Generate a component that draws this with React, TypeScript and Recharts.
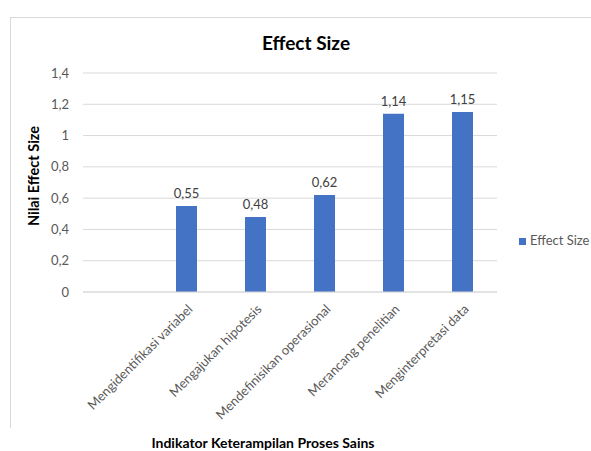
import { BarChart, Bar, XAxis, YAxis, CartesianGrid, Legend, LabelList } from 'recharts';

// first row is empty in the source sheet, so the first slot stays blank
const categories = [
  '',
  'Mengidentifikasi variabel',
  'Mengajukan hipotesis',
  'Mendefinisikan operasional',
  'Merancang penelitian',
  'Menginterpretasi data',
];
const effectSize: Array<number | null> = [null, 0.55, 0.48, 0.62, 1.14, 1.15];
const yTicks = [0, 0.2, 0.4, 0.6, 0.8, 1, 1.2, 1.4];

const FONT = 'Lato, "Open Sans", sans-serif';
const comma = (v: number) => String(v).replace('.', ',');

const data = categories.map((name, i) => ({ name, effectSize: effectSize[i] }));

function AngledTick(props: any) {
  const { x, y, payload } = props;
  const ax = x + 7;
  const ay = y + 10;
  return (
    <text
      x={ax}
      y={ay}
      transform={`rotate(-45 ${ax} ${ay})`}
      textAnchor="end"
      fontSize={13}
      fontFamily={FONT}
      fill="#595959"
    >
      {payload.value}
    </text>
  );
}

export default function App() {
  return (
    <div style={{ position: 'fixed', left: 0, top: 0, width: 591, height: 451, background: '#fff', fontFamily: FONT, overflow: 'hidden' }}>
      <div
        style={{
          position: 'absolute', left: 10, top: 17, width: 600, height: 410,
          borderLeft: '1px solid #d9d9d9', borderTop: '1px solid #d9d9d9',
        }}
      />
      <div style={{ position: 'absolute', left: 0, width: 612, top: 31, textAlign: 'center', fontWeight: 700, fontSize: 19, color: '#000' }}>
        Effect Size
      </div>
      <div
        style={{
          position: 'absolute', left: 33, top: 176, transform: 'translate(-50%, -50%) rotate(-90deg)',
          whiteSpace: 'nowrap', fontWeight: 700, fontSize: 14.5, color: '#000',
        }}
      >
        Nilai Effect Size
      </div>
      <div style={{ position: 'absolute', left: 0, width: 526, top: 434, textAlign: 'center', fontWeight: 700, fontSize: 14, color: '#000' }}>
        Indikator Keterampilan Proses Sains
      </div>
      <div style={{ position: 'absolute', left: 0, top: 0 }}>
        <BarChart width={591} height={451} data={data} margin={{ top: 73, right: 94, bottom: 29, left: 33 }}>
          <CartesianGrid vertical={false} stroke="#d9d9d9" />
          <XAxis
            dataKey="name"
            interval={0}
            height={130}
            tick={<AngledTick />}
            tickLine={false}
            axisLine={{ stroke: '#d9d9d9' }}
          />
          <YAxis
            domain={[0, 1.4]}
            ticks={yTicks}
            width={50}
            tickLine={false}
            axisLine={false}
            tickMargin={8}
            tickFormatter={comma}
            tick={{ fill: '#595959', fontSize: 13, fontFamily: FONT }}
          />
          <Legend
            layout="vertical"
            align="center"
            verticalAlign="middle"
            iconType="square"
            iconSize={7}
            wrapperStyle={{ left: 519, top: 232, width: 72, whiteSpace: 'nowrap', fontFamily: FONT, fontSize: 13 }}
            formatter={(value: string) => (
              <span style={{ color: '#595959', whiteSpace: 'nowrap' }}>{value.replace(' ', '\u00a0')}</span>
            )}
          />
          <Bar dataKey="effectSize" name="Effect Size" fill="#4472C4" barSize={21} isAnimationActive={false}>
            <LabelList
              dataKey="effectSize"
              position="top"
              offset={8}
              formatter={(v: any) => (v == null ? '' : comma(v))}
              fill="#404040"
              fontSize={13}
              fontFamily={FONT}
            />
          </Bar>
        </BarChart>
      </div>
    </div>
  );
}
